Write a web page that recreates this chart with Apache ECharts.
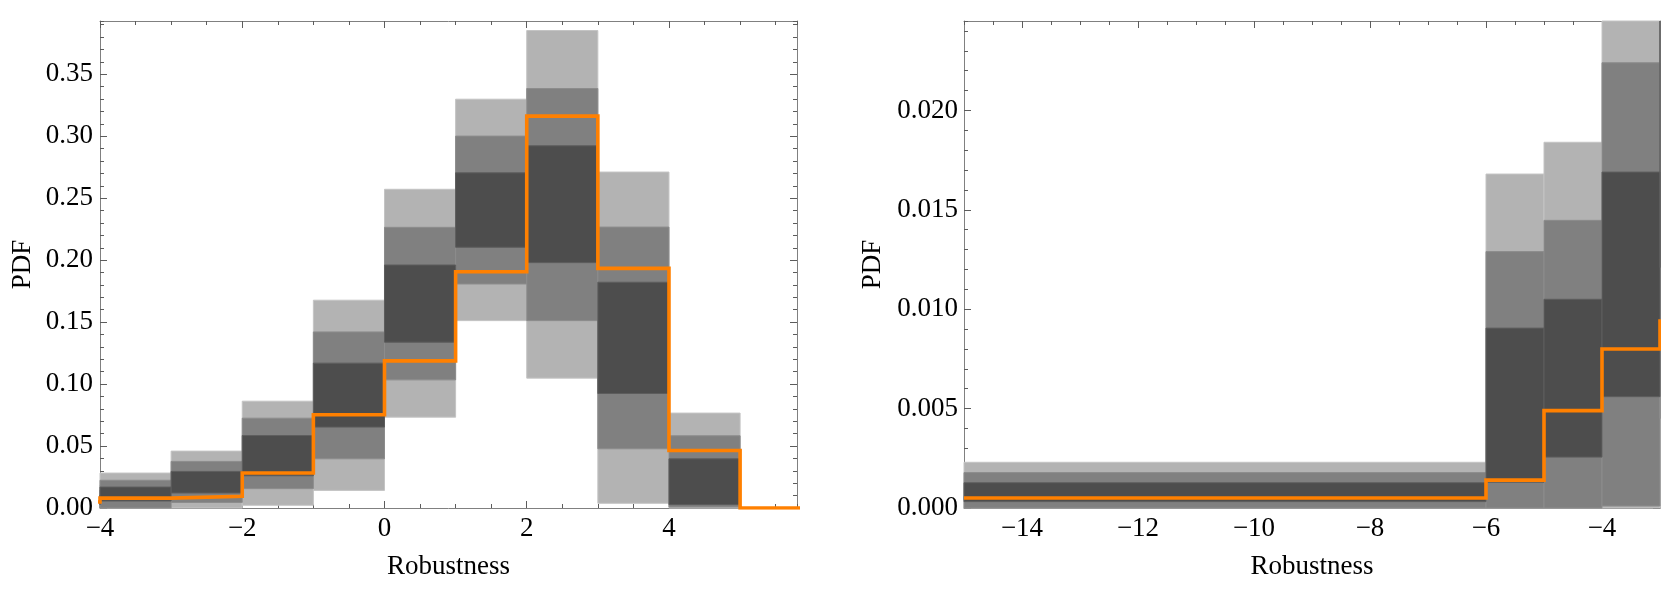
<!DOCTYPE html>
<html><head><meta charset="utf-8">
<script src="https://cdn.jsdelivr.net/npm/echarts@6/dist/echarts.min.js"></script>
<style>html,body{margin:0;padding:0;background:#fff}#c{width:1661px;height:604px}</style>
</head><body><div id="c"></div>
<script>
// ---- data (bins of Robustness, PDF and three confidence bands) ----
const binLeft  = [-15, -6, -5, -4, -3, -2, -1, 0, 1, 2, 3, 4, 5];
const binRight = [-6, -5, -4, -3, -2, -1, 0, 1, 2, 3, 4, 5, 6];
const pdf      = [0.0005, 0.0014, 0.0049, 0.0080, 0.0094, 0.0282, 0.0752, 0.1187, 0.1907, 0.3162, 0.1934, 0.0464, 0];
// outer band (light)
const outerLo  = [0, 0, 0, 0, 0, 0.0022, 0.0142, 0.0733, 0.1512, 0.1048, 0.0038, 0, 0];
const outerHi  = [0.0023, 0.0168, 0.0184, 0.0282, 0.0459, 0.0862, 0.1677, 0.2572, 0.3299, 0.3853, 0.2711, 0.0766, 0];
// middle band (medium)
const midLo    = [0, 0, 0, 0.0001, 0.0045, 0.0156, 0.0397, 0.1034, 0.1808, 0.1512, 0.0478, 0.0008, 0];
const midHi    = [0.00178, 0.0129, 0.01447, 0.0224, 0.0376, 0.0725, 0.1421, 0.2265, 0.3001, 0.3385, 0.2267, 0.0583, 0];
// inner band (dark)
const innerLo  = [0.00032, 0.0013, 0.00256, 0.0056, 0.0121, 0.0260, 0.0653, 0.1338, 0.2104, 0.1980, 0.0924, 0.0027, 0];
const innerHi  = [0.00127, 0.00905, 0.0105, 0.0169, 0.0295, 0.0585, 0.1169, 0.1961, 0.2705, 0.2923, 0.1822, 0.0397, 0];

// ---- tick labels ----
const leftXTicks  = [-4, -2, 0, 2, 4];
const leftYTicks  = [0, 0.05, 0.10, 0.15, 0.20, 0.25, 0.30, 0.35];
const rightXTicks = [-14, -12, -10, -8, -6, -4];
const rightYTicks = [0, 0.005, 0.010, 0.015, 0.020];

const FONT = "'Liberation Serif', 'Times New Roman', serif";
const LINE = '#808080', TICK = '#5c5c5c';
const FS = 27;

function fmtX(v) { return v < 0 ? '\u2212' + Math.abs(v) : String(v); }

function makeAxes(grid, pos, min, max, ticks, minorInterval, label, name) {
  const major = {
    type: 'value', gridIndex: grid, position: pos, min: min, max: max,
    axisLine: { show: true, onZero: false, lineStyle: { color: LINE, width: 1 } },
    axisTick: { show: true, inside: true, length: 7, customValues: ticks, lineStyle: { color: TICK, width: 1 } },
    axisLabel: label ? Object.assign({ show: true, customValues: ticks, fontFamily: FONT, fontSize: FS, color: '#000' }, label) : { show: false },
    splitLine: { show: false }, minorTick: { show: false }
  };
  if (name) Object.assign(major, name);
  const minor = {
    type: 'value', gridIndex: grid, position: pos, min: min, max: max, interval: minorInterval,
    axisLine: { show: false, onZero: false },
    axisTick: { show: true, inside: true, length: 4, lineStyle: { color: TICK, width: 1 } },
    axisLabel: { show: false }, splitLine: { show: false }
  };
  return [major, minor];
}

const xNameStyle = { name: 'Robustness', nameLocation: 'middle', nameGap: 45,
  nameTextStyle: { fontFamily: FONT, fontSize: FS, color: '#000' } };
function yName(gap) {
  return { name: 'PDF', nameLocation: 'middle', nameRotate: 90, nameGap: gap,
    nameTextStyle: { fontFamily: FONT, fontSize: FS, color: '#000' } };
}

const xAxis = [].concat(
  makeAxes(0, 'bottom', -4, 5.8, leftXTicks, 0.5, { margin: 7, formatter: fmtX }, xNameStyle),
  makeAxes(0, 'top', -4, 5.8, leftXTicks, 0.5, null, null),
  makeAxes(1, 'bottom', -15, -3, rightXTicks, 0.5, { margin: 7, formatter: fmtX }, xNameStyle),
  makeAxes(1, 'top', -15, -3, rightXTicks, 0.5, null, null)
);
const yAxis = [].concat(
  makeAxes(0, 'left', 0, 0.393, leftYTicks, 0.01, { margin: 7, formatter: v => v.toFixed(2) }, yName(64)),
  makeAxes(0, 'right', 0, 0.393, leftYTicks, 0.01, null, null),
  makeAxes(1, 'left', 0, 0.0245, rightYTicks, 0.001, { margin: 6, formatter: v => v.toFixed(3) }, yName(78)),
  makeAxes(1, 'right', 0, 0.0245, rightYTicks, 0.001, null, null)
);

function bandData(lo, hi) {
  return binLeft.map((b, i) => [b, binRight[i], lo[i], hi[i]]);
}
function stepData() {
  const d = [];
  binLeft.forEach((b, i) => { d.push([b, pdf[i]]); d.push([binRight[i], pdf[i]]); });
  return d;
}

function bandSeries(panel, lo, hi, fill, stroke, z) {
  return {
    type: 'custom', xAxisIndex: panel * 4, yAxisIndex: panel * 4, z: z, silent: true,
    encode: { x: [0, 1], y: [2, 3] },
    data: bandData(lo, hi),
    renderItem: function (params, api) {
      const x0 = api.value(0), x1 = api.value(1), lo = api.value(2), hi = api.value(3);
      if (!(hi > lo)) return;
      const p0 = api.coord([x0, hi]);
      const p1 = api.coord([x1, lo]);
      const cs = params.coordSys;
      const r = echarts.graphic.clipRectByRect(
        { x: p0[0], y: p0[1], width: p1[0] - p0[0], height: p1[1] - p0[1] },
        { x: cs.x, y: cs.y, width: cs.width, height: cs.height });
      if (!r) return;
      return { type: 'rect', shape: r, style: { fill: fill, stroke: stroke, lineWidth: 1 } };
    }
  };
}

const series = [];
[0, 1].forEach(p => {
  series.push(bandSeries(p, outerLo, outerHi, '#b3b3b3', '#c4c4c4', 2));
  series.push(bandSeries(p, midLo, midHi, '#808080', '#8c8c8c', 3));
  series.push(bandSeries(p, innerLo, innerHi, '#4d4d4d', '#5e5e5e', 4));
  series.push({
    type: 'line', xAxisIndex: p * 4, yAxisIndex: p * 4, z: 5, clip: true, silent: true,
    symbol: 'none', data: stepData(),
    lineStyle: { color: '#ff8000', width: 3.6, join: 'miter' }
  });
});

const chart = echarts.init(document.getElementById('c'), null, { renderer: 'canvas' });
chart.setOption({
  animation: false,
  backgroundColor: '#fff',
  grid: [
    { left: 100, top: 21, width: 697, height: 487, containLabel: false, outerBoundsMode: 'none' },
    { left: 964, top: 21, width: 696, height: 487, containLabel: false, outerBoundsMode: 'none' }
  ],
  xAxis: xAxis,
  yAxis: yAxis,
  series: series
});
</script></body></html>
